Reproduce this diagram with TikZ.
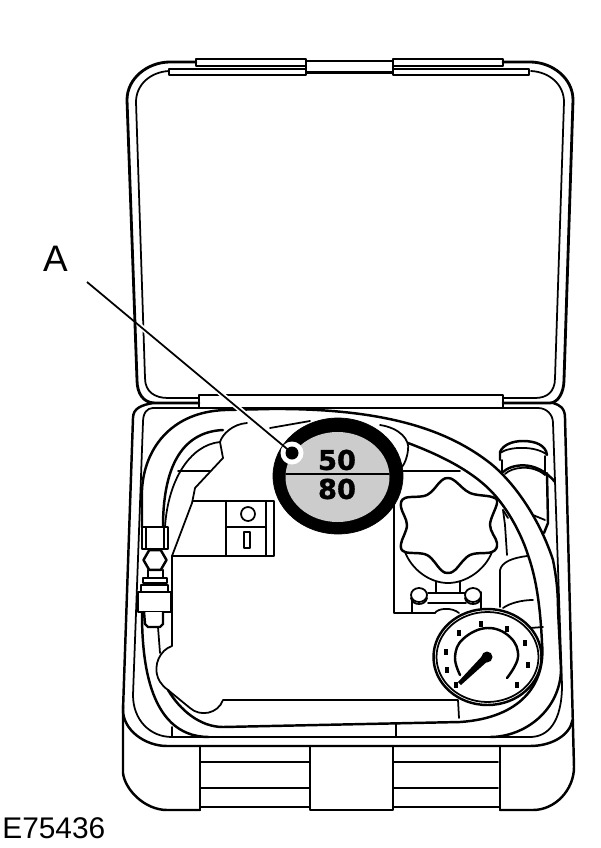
\documentclass[tikz,border=0pt]{standalone}
\usepackage{fontspec}
\usetikzlibrary{shapes.geometric}
\setmainfont{Liberation Sans}
\newfontfamily\dialfont[BoldFeatures={FakeBold=1.2}]{DejaVu Sans}
\tikzset{
	thin line/.style={line width=1pt, line cap=round, line join=round},
	case line/.style={line width=1.4pt, line cap=round, line join=round},
	tube line/.style={line width=1.4pt, line cap=round, line join=round},
	call label/.style={font=\fontsize{21}{23}\selectfont, inner sep=0pt},
	part label/.style={font=\fontsize{17}{19}\selectfont, inner sep=0pt},
	dial label/.style={font=\dialfont\bfseries\fontsize{15.5}{17}\selectfont, inner sep=0pt},
}

\begin{document}
\begin{tikzpicture}[x=0.02cm, y=-0.02cm]
	\useasboundingbox (0,0) rectangle (600,848);
	% lid
	\draw[case line, line width=1.6pt] (199,403) -- (155,403) .. controls (143,403) and (137,393) .. (137,380) -- (127,100) .. controls (127,78) and (148,62) .. (170,62) -- (196,62);
	\draw[case line, line width=1.6pt] (503,403) -- (550,403) .. controls (558,403) and (564,392) .. (564,380) -- (573,100) .. controls (573,78) and (552,62) .. (530,62) -- (503,62);
	\draw[thin line] (199,398) -- (168,398) .. controls (155,398) and (145,392) .. (145,378) -- (136,102) .. controls (136,85) and (150,72) .. (169,71);
	\draw[thin line] (503,398) -- (535,398) .. controls (547,398) and (555,392) .. (555,378) -- (564,102) .. controls (564,85) and (550,72) .. (531,71);
	\draw[case line] (169,69) rectangle (306,75);
	\draw[case line] (393,69) rectangle (529,75);
	\draw[case line] (196,59) rectangle (306,66);
	\draw[case line] (393,59) rectangle (503,66);
	\draw[case line, fill=white] (306,61) rectangle (393,72);
	\draw[line width=1.6pt] (306,73) -- (393,73);
	% hinge strip
	\draw[case line] (199,408) -- (199,395) -- (503,395) -- (503,408);
	\draw[case line] (153,408) -- (538,408);
	% base
	\draw[case line] (153,403) .. controls (142,405) and (133,408) .. (133,418) -- (123,710) .. controls (123,730) and (145,746) .. (167,746) -- (530,746) .. controls (552,746) and (570,735) .. (572.5,720);
	\draw[case line] (553,403) .. controls (560,405) and (565,408) .. (565,418) -- (574,767) .. controls (574,790) and (555,810) .. (533,810) -- (500,810);
	\draw[case line] (123,705) -- (123,773) .. controls (125,790) and (145,810) .. (167,810) -- (200,810);
	\draw[thin line] (153,408) .. controls (147,408) and (143,413) .. (143,422) -- (133,695) .. controls (133,720) and (150,737) .. (172,737) -- (530,737) .. controls (548,737) and (562,722) .. (562,685) -- (553,423) .. controls (553,415) and (547,408) .. (538,408);
	\draw[thin line] (172,727) -- (172,737);
	\draw[thin line] (396,723) -- (396,737);
	% latches
	\draw[case line] (200,746) -- (200,810);
	\draw[case line] (310,746) -- (310,810) -- (393,810) -- (393,746);
	\draw[case line] (500,746) -- (500,810);
	\draw[thin line] (200,762) -- (310,762);
	\draw[thin line] (200,788) -- (310,788);
	\draw[case line] (200,807) -- (310,807);
	\draw[thin line] (393,762) -- (498,762);
	\draw[thin line] (393,788) -- (498,788);
	\draw[case line] (393,807) -- (500,807);
	% compressor outline
	\draw[thin line] (223,458) -- (195,488) -- (192,503) -- (172,556) -- (172,646) .. controls (160,650) and (153,665) .. (158,678) .. controls (160,683) and (165,688) .. (168,690) -- (190,708) .. controls (200,717) and (218,714) .. (223,700) -- (458,700) -- (459,718);
	\draw[thin line] (220,442) .. controls (222,435) and (232,424) .. (247,423);
	\draw[thin line] (220,442) -- (223,458);
	\draw[thin line] (178,471) -- (210,471);
	\draw[thin line] (403,471) -- (460,471);
	\draw[thin line] (270,428) -- (310,421);
	\draw[thin line] (380,425) .. controls (400,428) and (410,440) .. (408,450) .. controls (407,458) and (405,463) .. (402,467);
	% control box
	\draw[case line] (193,501) -- (274,501) -- (274,556) -- (172,556);
	\draw[case line] (226,501) -- (226,556);
	\draw[case line] (266,501) -- (266,556);
	\draw[case line] (226,527) -- (266,527);
	\node[circle, draw, thin line, minimum size=0.28cm, inner sep=0pt] (switchlamp) at (248,514) {};
	\node[rectangle, draw, thin line, minimum width=0.12cm, minimum height=0.32cm, inner sep=0pt] (switchbar) at (247,540) {};
	% bottle
	\draw[case line] (500,460) -- (500,452) .. controls (503,445) and (512,441) .. (523,441) .. controls (535,441) and (546,445) .. (547,455);
	\draw[thin line] (500,453) .. controls (510,446) and (535,446) .. (546,454);
	\draw[thin line] (502,460) -- (502,473);
	\draw[thin line] (545,456) -- (545,475);
	\draw[case line] (503,472) .. controls (510,465) and (535,458) .. (555,482);
	\draw[thin line] (505,474) .. controls (512,467) and (532,464) .. (545,475);
	\draw[case line] (547,473) -- (548,523) -- (544,533);
	\draw[thin line] (533,515) -- (545,520);
	\draw[thin line] (503,510) -- (505,525) -- (507,555);
	\draw[thin line] (503,510) -- (508,518);
	\draw[thin line] (500,607) -- (500,570) .. controls (502,562) and (512,558) .. (527,556);
	\draw[thin line] (503,608) .. controls (510,603) and (522,600) .. (533,600);
	\draw[thin line] (530,628) -- (543,627);
	% knob
	\draw[case line] plot[smooth cycle, tension=0.6] coordinates {(441,481) (448,478) (455,481) (470,493) (492,497) (497,503) (490,525) (497,543) (492,552) (470,555) (455,570) (448,573) (441,570) (427,555) (405,552) (401,544) (407,525) (401,507) (405,498) (427,495)};
	\draw[thin line] (405,552) .. controls (412,570) and (430,583) .. (448,583) .. controls (466,583) and (485,570) .. (492,552);
	\draw[thin line] (436,582) -- (436,593);
	\draw[thin line] (460,582) -- (460,593);
	\draw[thin line] (428,593) -- (466,593);
	\draw[thin line] (428,603) -- (466,603);
	\draw[thin line] (394,497) -- (394,613) -- (435,613);
	\draw[thin line] (412,592) -- (412,613);
	\draw[thin line] (481,592) -- (481,613);
	\draw[thin line, fill=white] (419,595) ellipse (8 and 7);
	\draw[thin line, fill=white] (473,595) ellipse (8 and 7);
	\draw[thin line] (411,598) .. controls (412,606) and (426,606) .. (427,598);
	\draw[thin line] (465,598) .. controls (466,606) and (480,606) .. (481,598);
	\draw[thin line] (435,613) .. controls (438,608) and (452,607) .. (459,613);
	% hose
	\draw[tube line] (142,527) -- (142,490) .. controls (144,450) and (170,412) .. (225,410) -- (270,409) .. controls (390,408) and (450,432) .. (490,463) .. controls (515,483) and (540,520) .. (553,560) .. controls (556,575) and (558,590) .. (558,610) -- (561,670) .. controls (560,710) and (525,737) .. (490,737);
	\draw[tube line] (163,527) .. controls (163,470) and (180,432) .. (223,430);
	\draw[thin line] (165,527) .. controls (168,480) and (190,445) .. (220,442);
	\draw[tube line] (408,443) .. controls (440,455) and (470,470) .. (490,490) .. controls (505,505) and (520,530) .. (528,555) .. controls (535,575) and (540,600) .. (542,643) .. controls (546,685) and (520,718) .. (460,722) -- (223,727) .. controls (200,727) and (180,710) .. (168,690);
	\draw[tube line] (142,612) .. controls (142,650) and (145,737) .. (209,737);
	\draw[thin line] (158,627) -- (160,653);
	% fitting
	\draw[case line, fill=white] (142,527) rectangle (168,549);
	\draw[thin line] (146,527) -- (146,549);
	\draw[thin line] (164,527) -- (164,549);
	\node[regular polygon, regular polygon sides=6, draw, case line, minimum size=0.46cm, inner sep=0pt] (hexnut) at (155,560) {};
	\draw[case line] (148,570) -- (148,578);
	\draw[case line] (163,570) -- (163,578);
	\draw[case line, fill=white] (143,578) rectangle (167,583);
	\draw[case line, fill=white] (141,585) rectangle (168,592);
	\draw[case line, fill=white] (138,592) rectangle (171,612);
	\draw[case line, fill=white] (144,612) -- (145,624) -- (148,627) -- (160,627) -- (163,624) -- (163,612);
	% gauge
	\draw[case line, fill=white] (487.5,657) ellipse (54 and 48);
	\draw[thin line] (487.5,657) ellipse (51 and 45);
	\draw[case line] plot[smooth, tension=0.7] coordinates {(460,675) (455,657) (463,639) (487,628) (510,637) (518,657) (507,678)};
	\foreach \tx/\ty in {481/624, 507/629, 525/643, 528/665, 517/685, 456/685, 447/670, 446/652, 459/633} {
		\fill (\tx-2.2,\ty-2.8) rectangle (\tx+2.2,\ty+2.8);
	}
	\fill (458,682) -- (484,654) -- (490,659) -- (461,685) -- cycle;
	\node[circle, fill=black, minimum size=0.22cm, inner sep=0pt] (needlehub) at (487,657) {};
	% marked dial
	\draw[fill=black] (338,476) ellipse (65 and 58);
	\fill[fill=black!20] (337.5,477) ellipse (52 and 45);
	\node[dial label] (upperfig) at (337,460) {50};
	\node[dial label] (lowerfig) at (337,489) {80};
	\draw[thin line] (286,474) -- (389,474);
	% call-out
	\node[call label] (labelA) at (55.5,259) {A};
	\node[part label, anchor=west] (partno) at (2,828) {E75436};
	\coordinate (leadstart) at (87,282);
	\node[circle, fill=white, minimum size=0.46cm, inner sep=0pt] (dothalo) at (292,453) {};
	\draw[white, line width=3pt] (140,326) -- (280,443);
	\draw[line width=1pt] (leadstart) -- (dothalo.center);
	\node[circle, fill=black, minimum size=0.26cm, inner sep=0pt] (dotA) at (292,453) {};
\end{tikzpicture}
\end{document}
